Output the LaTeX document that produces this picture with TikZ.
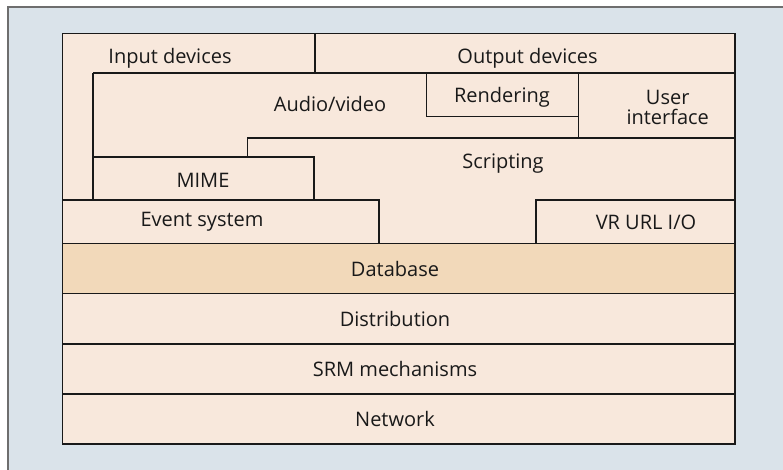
\documentclass[tikz,border=0pt]{standalone}
\usepackage{fontspec}
\setmainfont{Open Sans}
\definecolor{panelbg}{RGB}{218,227,234}
\definecolor{panelline}{RGB}{110,110,110}
\definecolor{peach}{RGB}{248,232,220}
\definecolor{dbfill}{RGB}{242,217,186}
\definecolor{ink}{RGB}{25,25,25}
\begin{document}
\begin{tikzpicture}[x=1pt,y=-1pt,
  lbl/.style={font=\fontsize{20}{20}\selectfont, text=ink, inner sep=0pt, align=center},
  edge/.style={draw=ink, line width=1.4pt}]
\useasboundingbox (0,0) rectangle (783,469);
\fill[panelbg] (8,7) rectangle (800,480);
\draw[panelline, line width=1.5pt] (8,480) -- (8,7) -- (800,7);
% big box
\fill[peach] (62.7,33.5) rectangle (735,444);
\fill[dbfill] (62.7,243.5) rectangle (735,293.5);
% structure lines
\draw[edge] (62.7,33.5) rectangle (735,444);
\draw[edge] (93,73) -- (735,73);
\draw[edge] (315,33.5) -- (315,73);
\draw[edge] (93,73) -- (93,200);
\draw[edge] (426.7,73) -- (426.7,116.7) -- (578.3,116.7);
\draw[edge] (578.3,73) -- (578.3,138);
\draw[edge] (247.7,157) -- (247.7,138) -- (735,138);
\draw[edge] (93,157) rectangle (314,200);
\draw[edge] (62.7,200) -- (379,200) -- (379,243.5);
\draw[edge] (536,243.5) -- (536,200) -- (735,200);
\draw[edge] (62.7,243.5) -- (735,243.5);
\draw[edge] (62.7,293.5) -- (735,293.5);
\draw[edge] (62.7,344) -- (735,344);
\draw[edge] (62.7,394) -- (735,394);
% labels
\node[lbl] (input) at (170,58) {Input devices};
\node[lbl] (output) at (527.5,58) {Output devices};
\node[lbl] (av) at (330,104) {Audio/video};
\node[lbl] (rend) at (502,97) {Rendering};
\node[lbl] (ui) at (667.7,107) {User\\interface};
\node[lbl] (script) at (503,164) {Scripting};
\node[lbl] (mime) at (203,180) {MIME};
\node[lbl] (event) at (202,222) {Event system};
\node[lbl] (vrurl) at (646,222) {VR URL I/O};
\node[lbl] (db) at (395,268.5) {Database};
\node[lbl] (dist) at (395,319) {Distribution};
\node[lbl] (srm) at (395,369) {SRM mechanisms};
\node[lbl] (net) at (395,419) {Network};
\end{tikzpicture}
\end{document}
